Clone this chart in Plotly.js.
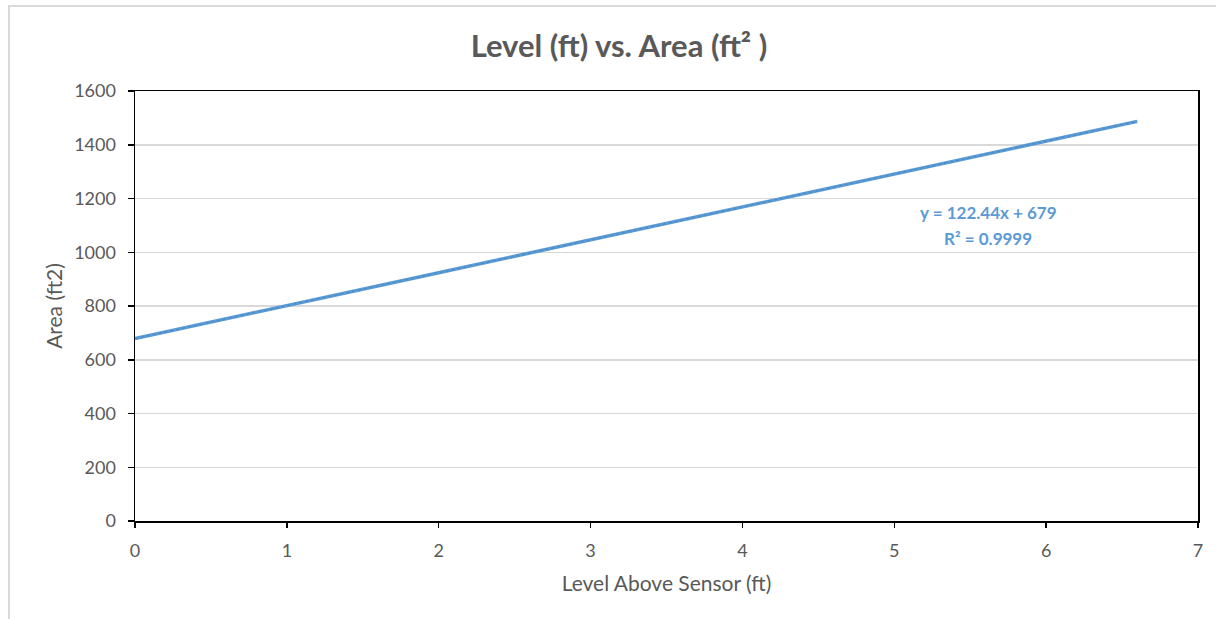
<!DOCTYPE html>
<html>
<head>
<meta charset="utf-8">
<script src="https://cdn.plot.ly/plotly-3.0.1.min.js"></script>
<style>
  html, body { margin: 0; padding: 0; background: #fff; }
  #frame { position: absolute; left: 8px; top: 5px; width: 1220px; height: 630px; border: 2px solid #d9d9d9; box-sizing: border-box; }
  #chart { position: absolute; left: 0; top: 0; width: 1216px; height: 619px; }
</style>
</head>
<body>
<div id="frame"></div>
<div id="chart"></div>
<script>
// Data
const level = [0, 0.5, 1, 1.5, 2, 2.5, 3, 3.5, 4, 4.5, 5, 5.5, 6, 6.6];
const area  = [679, 741, 802, 863, 924, 985, 1046, 1108, 1169, 1230, 1291, 1352, 1414, 1487];
const trendX = [0, 6.6];
const trendY = [679, 1487];
const yTicks = [0, 200, 400, 600, 800, 1000, 1200, 1400, 1600];
const xTicks = [0, 1, 2, 3, 4, 5, 6, 7];
const titleText = "Level (ft) vs. Area (ft² )";
const xTitle = "Level Above Sensor (ft)";
const yTitle = "Area (ft2)";
const eqLine1 = "y = 122.44x + 679";
const eqLine2 = "R² = 0.9999";

const fontFam = "Lato, 'Open Sans', sans-serif";
const gray = "#595959";

const traces = [
  { x: level, y: area, type: "scatter", mode: "lines",
    line: { color: "#5B9BD5", width: 3.5 }, hoverinfo: "skip", showlegend: false },
  { x: trendX, y: trendY, type: "scatter", mode: "lines",
    line: { color: "#4F8DC8", width: 1.5, dash: "dot" }, hoverinfo: "skip", showlegend: false }
];

const layout = {
  width: 1216, height: 619,
  margin: { l: 135, r: 18, t: 91, b: 98 },
  paper_bgcolor: "rgba(0,0,0,0)",
  plot_bgcolor: "#fff",
  showlegend: false,
  font: { family: fontFam, color: gray, size: 18 },
  title: { text: "<b>" + titleText + "</b>", x: 0.509, xanchor: "center", y: 0.925, yanchor: "middle",
           font: { family: fontFam, size: 31, color: gray } },
  xaxis: {
    range: [0, 7], tickvals: xTicks, ticktext: xTicks.map(String),
    showgrid: false, zeroline: false,
    showline: true, linecolor: "#000", linewidth: 1.5, mirror: true,
    ticks: "outside", ticklen: 5, tickcolor: "#000", tickwidth: 1.5,
    ticklabelstandoff: 8,
    tickfont: { size: 18, color: gray, family: fontFam },
    title: { text: xTitle, font: { size: 21, color: gray, family: fontFam }, standoff: 16 }
  },
  yaxis: {
    range: [0, 1600], tickvals: yTicks, ticktext: yTicks.map(String),
    showgrid: true, gridcolor: "#d9d9d9", gridwidth: 1.5, zeroline: false,
    showline: true, linecolor: "#000", linewidth: 1.5, mirror: true,
    ticks: "outside", ticklen: 6, tickcolor: "#000", tickwidth: 1.5,
    ticklabelstandoff: 8,
    tickfont: { size: 18, color: gray, family: fontFam },
    title: { text: yTitle, font: { size: 21, color: gray, family: fontFam }, standoff: 6 }
  },
  annotations: [
    { text: "<b>" + eqLine1 + "</b>", xref: "x", yref: "y", x: 5.62, y: 1148,
      showarrow: false, xanchor: "center", yanchor: "middle",
      font: { family: fontFam, size: 17, color: "#5B9BD5" } },
    { text: "<b>" + eqLine2 + "</b>", xref: "x", yref: "y", x: 5.62, y: 1050,
      showarrow: false, xanchor: "center", yanchor: "middle",
      font: { family: fontFam, size: 17, color: "#5B9BD5" } }
  ]
};

Plotly.newPlot("chart", traces, layout, { displayModeBar: false, staticPlot: true });
</script>
</body>
</html>
